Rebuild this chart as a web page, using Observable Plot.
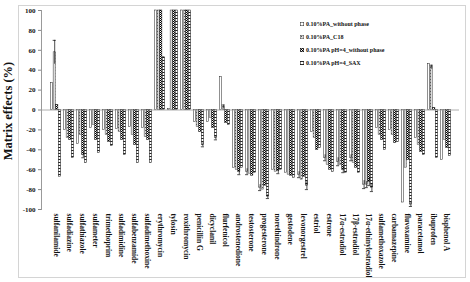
<!DOCTYPE html>
<html><head><meta charset="utf-8">
<script src="https://cdn.jsdelivr.net/npm/d3@7"></script>
<script src="https://cdn.jsdelivr.net/npm/@observablehq/plot@0.6"></script>
<style>
body{margin:0;background:#fff;}
#wrap{position:relative;width:470px;height:282px;font-family:"Liberation Serif",serif;}
#border{position:absolute;left:18px;top:5px;width:446px;height:271px;border:1px solid #d4d4d4;pointer-events:none;}
#ytitle{position:absolute;left:8px;top:111px;transform:translate(-50%,-50%) rotate(-90deg);white-space:nowrap;font-weight:bold;font-size:12.5px;color:#111;}
#legend{position:absolute;left:300px;top:17px;font-size:6px;font-weight:bold;color:#111;}
#legend div{height:13px;display:flex;align-items:center;}
#legend svg{margin-right:2px;}
</style></head>
<body>
<svg width="0" height="0" style="position:absolute">
<defs>
<pattern id="p2" width="3" height="3" patternUnits="userSpaceOnUse"><rect width="3" height="3" fill="#dcdcdc"/><rect x="1" y="1" width="1" height="1" fill="#555"/></pattern>
<pattern id="p3" width="2" height="2" patternUnits="userSpaceOnUse"><rect width="2" height="2" fill="#fff"/><rect width="1" height="1" fill="#000"/><rect x="1" y="1" width="1" height="1" fill="#000"/></pattern>
<pattern id="p4" width="3" height="3" patternUnits="userSpaceOnUse"><rect width="3" height="3" fill="#fff"/><rect width="3" height="1" fill="#222"/></pattern>
</defs>
</svg>
<div id="wrap"><div id="border"></div><div id="ytitle">Matrix effects (%)</div><div id="legend"></div></div>
<script>
const categories = ["sulfanilamide","sulfadiazine","sulfathiazole","sulfameter","trimethoprim","sulfadimidine","sulfabenzamide","sulfadimethoxine","erythromycin","tylosin","roxithromycin","penicillin G","dicyclanil","flurfenicol","androstenedione","testosterone","progesterone","norethindrone","gestodene","levonorgestrel","estriol","estrone","17α-estradiol","17β-estradiol","17α-ethinylestradiol","sulfamethoxazole","carbamazepine","fluvoxamine","paracetamol","ibuprofen","bisphenol A"];
const seriesNames = ["0.10%PA_without phase","0.10%PA_C18","0.10%PA pH=4_without phase","0.10%PA pH=4_SAX"];
const withoutPhase = [27,-20,-34,-18,-20,-19,-17,-18,100,1,100,-12,-12,33,-58,-62,-78,-60,-63,-65,-22,-48,-52,-48,-75,-18,-20,-93,-28,46,-50];
const c18 = [58,-28,-25,-15,-25,-22,-25,-27,100,100,100,-17,-8,3,-60,-64,-80,-62,-65,-70,-28,-55,-55,-53,-75,-25,-25,-58,-35,43,-30];
const ph4WithoutPhase = [5,-30,-45,-30,-32,-30,-35,-30,100,100,100,-22,-18,-13,-62,-66,-76,-61,-66,-67,-40,-60,-60,-58,-72,-30,-33,-50,-42,2,-38];
const ph4Sax = [-67,-48,-53,-43,-36,-45,-53,-53,53,100,100,-35,-28,-15,-58,-63,-87,-60,-68,-76,-38,-62,-63,-63,-78,-40,-32,-95,-45,-48,-46];
const errWithoutPhase = [0,0,0,0,0,0,0,0,0,0,0,0,0,0,0,3,3,0,0,3,0,3,4,3,4,0,0,0,0,0,0];
const errC18 = [12,0,0,0,0,0,0,0,0,0,0,0,0,2,0,0,0,0,0,0,0,0,0,0,3,0,0,0,0,2,0];
const errPh4WithoutPhase = [0,0,3,0,0,0,0,0,0,0,0,0,0,0,3,0,0,3,0,0,0,0,3,0,4,0,0,0,0,0,0];
const errPh4Sax = [0,0,0,0,0,0,0,0,0,0,0,2,2,0,0,0,2,0,0,4,0,0,0,0,4,0,0,2,0,0,0];
const yTicks = [-100,-80,-60,-40,-20,0,20,40,60,80,100];

const valueArrays = [withoutPhase, c18, ph4WithoutPhase, ph4Sax];
const errArrays = [errWithoutPhase, errC18, errPh4WithoutPhase, errPh4Sax];
const fills = ["#fff","url(#p2)","url(#p3)","url(#p4)"];
const strokes = ["#222","#444","#000","#000"];

const W = 470, H = 282, ML = 41, MR = 11, MT = 10, MB = 73;
const BW = (W - ML - MR) / categories.length;
const BAR = 2.6;
const PAD = (BW - 4 * BAR) / 2;

const marks = [];
valueArrays.forEach((vals, i) => {
  const rows = categories.map((c, k) => ({cat: c, v: vals[k], e: errArrays[i][k]}));
  marks.push(Plot.barY(rows, {x: "cat", y: "v", fill: fills[i], stroke: strokes[i], strokeWidth: 0.5,
    insetLeft: PAD + i * BAR, insetRight: PAD + (3 - i) * BAR}));
  const er = rows.filter(d => d.e > 0);
  const dx = -BW / 2 + PAD + i * BAR + BAR / 2;
  marks.push(Plot.ruleX(er, {x: "cat", y1: d => d.v - d.e, y2: d => d.v + d.e, dx, stroke: "#000", strokeWidth: 0.7}));
  marks.push(Plot.tickY(er, {x: "cat", y: d => d.v + Math.sign(d.v) * d.e, stroke: "#000", strokeWidth: 0.7,
    insetLeft: PAD + i * BAR - 0.5, insetRight: PAD + (3 - i) * BAR - 0.5}));
});
marks.push(Plot.ruleY([0], {stroke: "#9a9a9a", strokeWidth: 0.8}));
marks.push(Plot.frame({anchor: "left", stroke: "#9a9a9a"}));
marks.push(Plot.axisY({ticks: yTicks, tickSize: 3, tickPadding: 3, tickFormat: d => String(d), fontSize: 7, fontWeight: "bold", label: null, stroke: "#888", color: "#111"}));
marks.push(Plot.axisX({tickRotate: 90, tickSize: 0, tickPadding: 4, fontSize: 7.5, fontWeight: "bold", label: null, color: "#111"}));

const chart = Plot.plot({
  width: W, height: H, marginLeft: ML, marginRight: MR, marginTop: MT, marginBottom: MB,
  style: {fontFamily: "Liberation Serif", background: "transparent"},
  x: {domain: categories, padding: 0},
  y: {domain: [-100, 100]},
  marks
});
chart.style.position = "absolute";
chart.style.left = "0"; chart.style.top = "0";
document.getElementById("wrap").prepend(chart);

const leg = document.getElementById("legend");
seriesNames.forEach((n, i) => {
  const row = document.createElement("div");
  row.innerHTML = `<svg width="4" height="4"><rect x="0.25" y="0.25" width="3.5" height="3.5" fill="${fills[i]}" stroke="${strokes[i]}" stroke-width="0.5"/></svg><span>${n}</span>`;
  leg.appendChild(row);
});
</script>
</body></html>
